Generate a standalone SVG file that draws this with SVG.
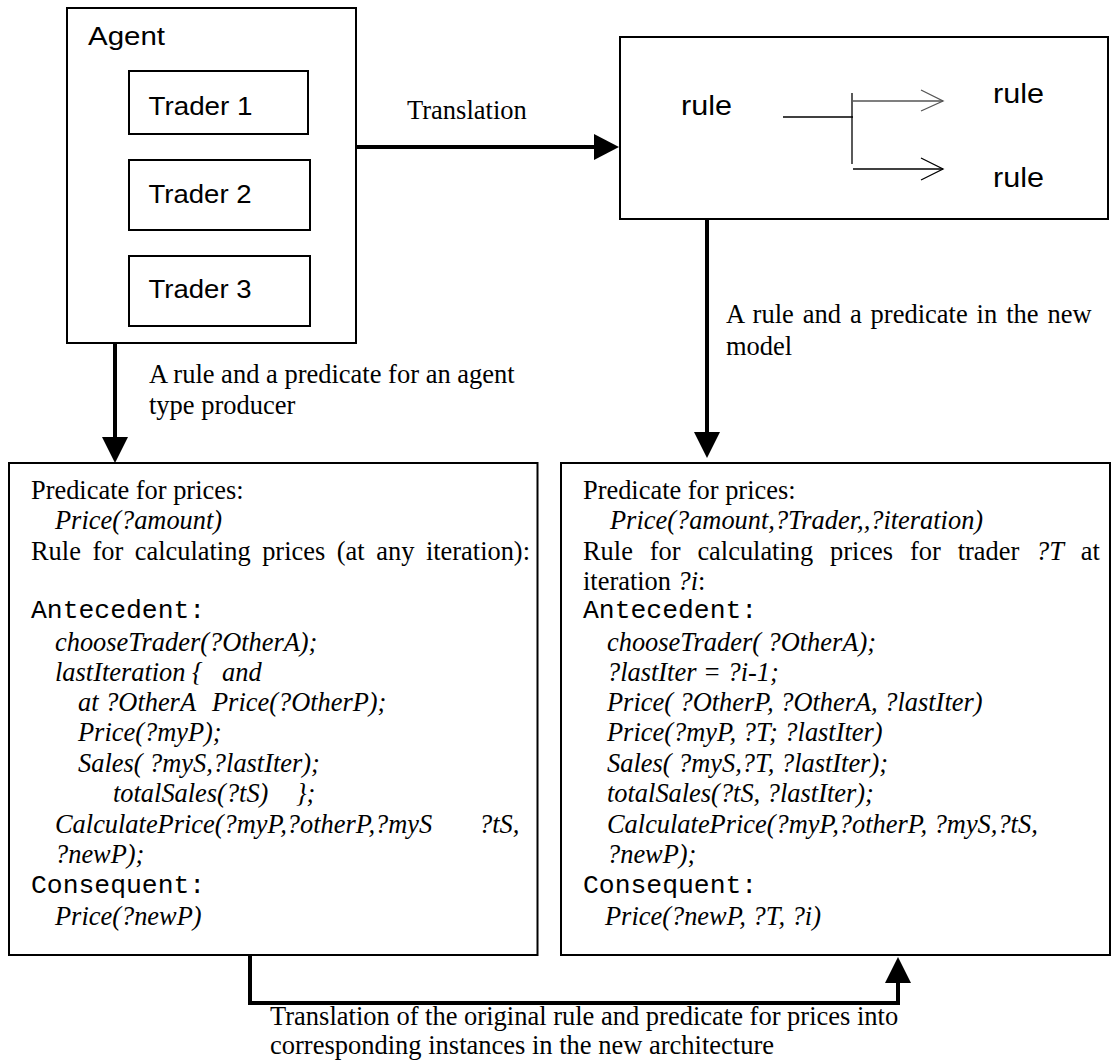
<svg xmlns="http://www.w3.org/2000/svg" width="1112" height="1061" viewBox="0 0 1112 1061">
<style>
.box{fill:#fff;stroke:#000;stroke-width:2}
.thin{fill:none;stroke:#000;stroke-width:1.3}
.gray{fill:none;stroke:#555;stroke-width:1.3}
.sans{font-family:"Liberation Sans",Arial,sans-serif;fill:#000}
.serif{font-family:"Liberation Serif","Times New Roman",serif;font-size:26.4px;fill:#000}
.lbl{font-family:"Liberation Serif","Times New Roman",serif;font-size:26.5px;fill:#000}
.mono{font-family:"Liberation Mono","Courier New",monospace;font-size:26.4px;fill:#000}
.it{font-style:italic}
.conn{fill:none;stroke:#000;stroke-width:4}
.head{fill:#000;stroke:none}
</style>
<rect width="1112" height="1061" fill="#fff"/>

<g id="agent">
<rect class="box" x="67" y="8" width="289" height="335"/>
<text class="sans" x="88" y="138" font-size="25" textLength="77" lengthAdjust="spacingAndGlyphs" transform="translate(0,-93)">Agent</text>
</g>
<g id="trader1">
<rect class="box" x="129" y="71" width="179" height="63"/>
<text class="sans" x="148.5" y="115" font-size="26" textLength="104" lengthAdjust="spacingAndGlyphs">Trader 1</text>
</g>
<g id="trader2">
<rect class="box" x="129" y="160" width="181" height="70"/>
<text class="sans" x="148.5" y="203" font-size="26" textLength="103" lengthAdjust="spacingAndGlyphs">Trader 2</text>
</g>
<g id="trader3">
<rect class="box" x="129" y="256" width="181" height="70"/>
<text class="sans" x="148.5" y="298" font-size="26" textLength="103" lengthAdjust="spacingAndGlyphs">Trader 3</text>
</g>

<g id="rules">
<rect class="box" x="620" y="37" width="488" height="182"/>
<text class="sans" x="681" y="115" font-size="28" textLength="51" lengthAdjust="spacingAndGlyphs">rule</text>
<text class="sans" x="993" y="103" font-size="28" textLength="51" lengthAdjust="spacingAndGlyphs">rule</text>
<text class="sans" x="993" y="187" font-size="28" textLength="51" lengthAdjust="spacingAndGlyphs">rule</text>
<line class="thin" x1="783" y1="117" x2="853" y2="117"/>
<line class="thin" x1="852" y1="93" x2="852" y2="164"/>
<line class="gray" x1="853" y1="101" x2="943" y2="101"/>
<polyline class="gray" points="921,90 943,101 921,111"/>
<line class="thin" x1="853" y1="169" x2="943" y2="169"/>
<polyline class="thin" points="921,158 943,169 921,180"/>
</g>

<g id="original">
<rect class="box" x="9" y="463" width="528.5" height="492"/>
<text class="serif" x="31" y="499">Predicate for prices:</text>
<text class="serif it" x="55" y="529.4">Price(?amount)</text>
<text class="serif" x="31" y="559.8" word-spacing="5">Rule for calculating prices (at any iteration):</text>
<text class="mono" x="31" y="618">Antecedent:</text>
<text class="serif it" x="55" y="651">chooseTrader(?OtherA);</text>
<text class="serif it" x="55" y="680.6">lastIteration {</text>
<text class="serif it" x="222" y="680.6">and</text>
<text class="serif it" x="78" y="711">at ?OtherA</text>
<text class="serif it" x="212" y="711">Price(?OtherP);</text>
<text class="serif it" x="78" y="741.4">Price(?myP);</text>
<text class="serif it" x="78" y="771.8">Sales( ?myS,?lastIter);</text>
<text class="serif it" x="113" y="802.2">totalSales(?tS)</text>
<text class="serif it" x="296" y="802.2">};</text>
<text class="serif it" x="55" y="832.6">CalculatePrice(?myP,?otherP,?myS</text>
<text class="serif it" x="479" y="832.6">?tS,</text>
<text class="serif it" x="55" y="863">?newP);</text>
<text class="mono" x="31" y="893.4">Consequent:</text>
<text class="serif it" x="55" y="924.6">Price(?newP)</text>
</g>

<g id="translated">
<rect class="box" x="561" y="463" width="549" height="492"/>
<text class="serif" x="583" y="499">Predicate for prices:</text>
<text class="serif it" x="610" y="529.4">Price(?amount,?Trader,,?iteration)</text>
<text class="serif" x="583" y="559.8" word-spacing="10.3">Rule for calculating prices for trader <tspan class="it">?T</tspan> at</text>
<text class="serif" x="583" y="590.2">iteration <tspan class="it">?i</tspan>:</text>
<text class="mono" x="583" y="618">Antecedent:</text>
<text class="serif it" x="607" y="651">chooseTrader( ?OtherA);</text>
<text class="serif it" x="607" y="680.6">?lastIter = ?i-1;</text>
<text class="serif it" x="607" y="711">Price( ?OtherP, ?OtherA, ?lastIter)</text>
<text class="serif it" x="607" y="741.4">Price(?myP, ?T; ?lastIter)</text>
<text class="serif it" x="607" y="771.8">Sales( ?myS,?T, ?lastIter);</text>
<text class="serif it" x="607" y="802.2">totalSales(?tS, ?lastIter);</text>
<text class="serif it" x="607" y="832.6">CalculatePrice(?myP,?otherP, ?myS,?tS,</text>
<text class="serif it" x="607" y="863">?newP);</text>
<text class="mono" x="583" y="893.4">Consequent:</text>
<text class="serif it" x="605" y="924.6">Price(?newP, ?T, ?i)</text>
</g>

<g id="connectors">
<line class="conn" x1="356" y1="147" x2="596" y2="147"/>
<polygon class="head" points="594,134 619,147 594,160"/>
<line class="conn" x1="115" y1="343" x2="115" y2="440"/>
<polygon class="head" points="102,437 128,437 115,463"/>
<line class="conn" x1="707" y1="219" x2="707" y2="434"/>
<polygon class="head" points="694,432 720,432 707,458"/>
<polyline class="conn" points="250,955 250,1003 898,1003 898,981"/>
<polygon class="head" points="885,983 911,983 898,957"/>
<text class="lbl" x="407" y="119" font-size="28.7px">Translation</text>
<text class="lbl" x="149" y="383">A rule and a predicate for an agent</text>
<text class="lbl" x="149" y="414">type producer</text>
<text class="lbl" x="726" y="323" word-spacing="2.3">A rule and a predicate in the new</text>
<text class="lbl" x="726" y="355">model</text>
<text class="lbl" x="270" y="1025">Translation of the original rule and predicate for prices into</text>
<text class="lbl" x="270" y="1054">corresponding instances in the new architecture</text>
</g>
</svg>
